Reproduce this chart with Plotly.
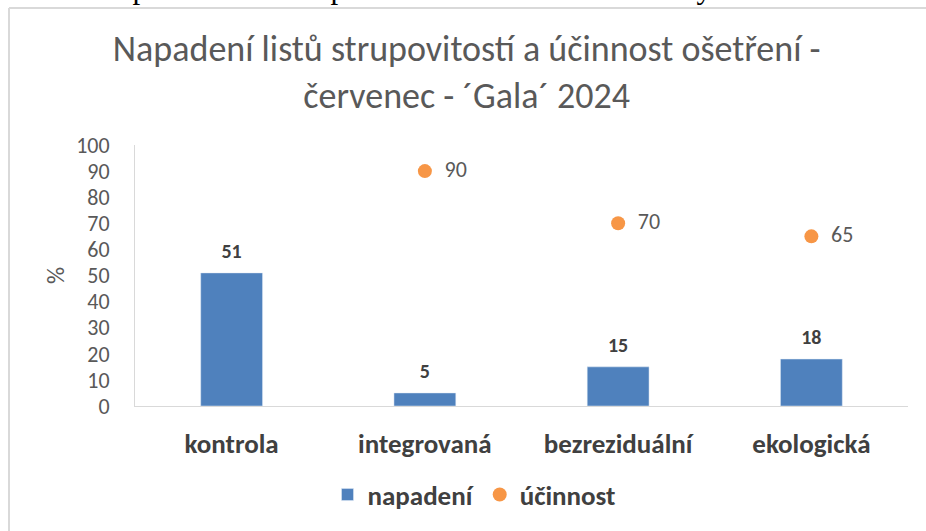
import plotly.graph_objects as go

categories = ["kontrola", "integrovaná", "bezreziduální", "ekologická"]
napadeni = [51, 5, 15, 18]
ucinnost_cats = ["integrovaná", "bezreziduální", "ekologická"]
ucinnost = [90, 70, 65]
y_ticks = [0, 10, 20, 30, 40, 50, 60, 70, 80, 90, 100]

FONT = "Carlito, Lato, 'Open Sans', sans-serif"
GRAY = "#595959"
DARK = "#404040"

L, R, T, B = 135, 18, 145, 125
W, H = 926, 531
PW, PH = W - L - R, H - T - B


def px(xp):
    return (xp - L) / PW


def py(yp):
    return (H - B - yp) / PH


fig = go.Figure()
fig.add_trace(go.Bar(
    x=categories, y=napadeni, name="napadení",
    marker=dict(color="#4f81bd"), width=0.32,
    hoverinfo="x+y",
))
fig.add_trace(go.Scatter(
    x=categories, y=napadeni, mode="markers+text", showlegend=False,
    marker=dict(size=14, opacity=0), hoverinfo="skip",
    text=["<b>%d</b>" % v for v in napadeni], textposition="top center",
    textfont=dict(family=FONT, size=20, color=DARK), cliponaxis=False,
))
fig.add_trace(go.Scatter(
    x=ucinnost_cats, y=ucinnost, name="účinnost", mode="markers+text",
    marker=dict(color="#f79646", size=14),
    text=["  " + str(v) for v in ucinnost], textposition="middle right",
    textfont=dict(family=FONT, size=22, color=GRAY), cliponaxis=False,
))

fig.update_layout(
    width=W, height=H,
    margin=dict(l=L, r=R, t=T, b=B, autoexpand=False),
    paper_bgcolor="white", plot_bgcolor="white",
    font=dict(family=FONT, color=GRAY),
    title=dict(
        text="Napadení listů strupovitostí a účinnost ošetření -<br>červenec - ´Gala´ 2024",
        x=0.504, xanchor="center", y=1 - 61 / H, yanchor="middle",
        font=dict(family=FONT, size=36, color=GRAY),
    ),
    bargap=0.68,
    showlegend=True,
    legend=dict(orientation="h", x=px(474), xanchor="center", y=py(495), yanchor="middle",
                font=dict(family=FONT, size=27, color=DARK, weight="bold"),
                itemwidth=30, tracegroupgap=0),
    xaxis=dict(showline=True, linecolor="#d9d9d9", linewidth=1, ticks="",
               tickfont=dict(family=FONT, size=27, color=DARK, weight="bold"),
               showgrid=False, automargin=False, ticklabelstandoff=14),
    yaxis=dict(range=[0, 100], tickvals=y_ticks, showline=True, linecolor="#d9d9d9",
               showgrid=False, ticks="", zeroline=False, automargin=False,
               ticklabelstandoff=20,
               tickfont=dict(family=FONT, size=22, color=GRAY),
               title=dict(text="%", font=dict(family=FONT, size=24, color=GRAY), standoff=4)),
    shapes=[
        dict(type="line", xref="paper", yref="paper", x0=px(9), x1=px(940),
             y0=py(8), y1=py(8), line=dict(color="#d9d9d9", width=2)),
        dict(type="line", xref="paper", yref="paper", x0=px(9), x1=px(9),
             y0=py(8), y1=py(545), line=dict(color="#d9d9d9", width=2)),
    ],
    annotations=[
        dict(text="Graf 1: Napadení listů strupovitostí v roce 2024 u odrůdy ´Gala´",
             xref="paper", yref="paper", x=px(-2), xanchor="left",
             y=py(7), yanchor="bottom", showarrow=False,
             font=dict(family="'Liberation Serif', serif", size=31, color="black")),
    ],
)

fig.write_html("out.html", config={"displayModeBar": False},
               post_script="document.body.style.margin='0';")
